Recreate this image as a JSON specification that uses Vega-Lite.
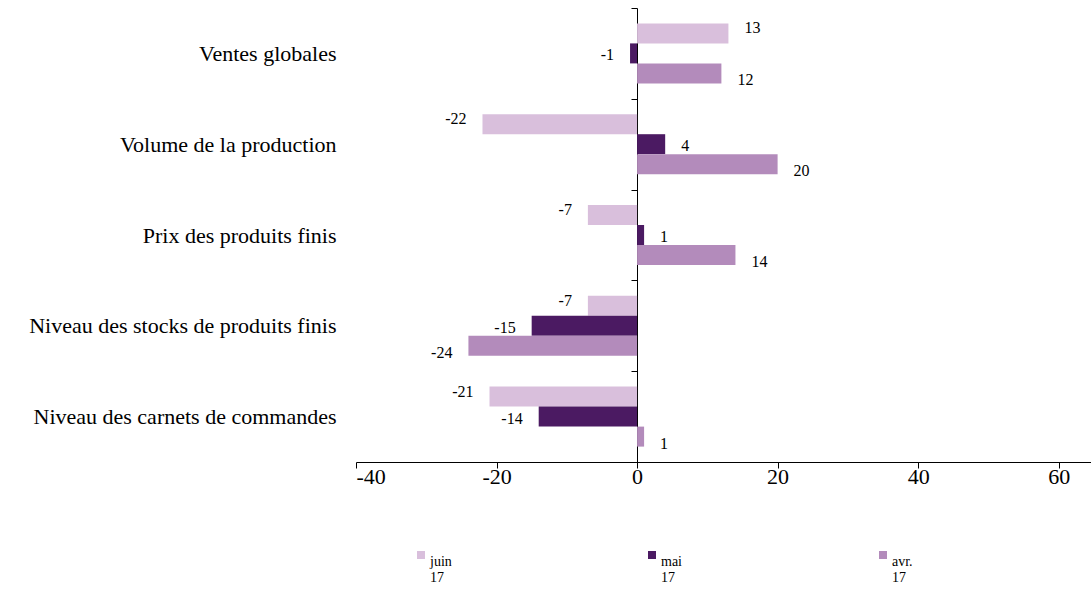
{
  "$schema": "https://vega.github.io/schema/vega-lite/v6.json",
  "width": 735,
  "height": 454,
  "autosize": {"type": "none"},
  "padding": {"left": 356, "top": 8, "right": 0, "bottom": 130},
  "background": "white",
  "config": {
    "font": "Liberation Serif",
    "text": {"font": "Liberation Serif"},
    "view": {"stroke": null},
    "legend": {"labelFont": "Liberation Serif"},
    "axis": {"labelFont": "Liberation Serif", "labelColor": "black", "domainColor": "black", "tickColor": "black", "grid": false}
  },
  "data": {
    "values": [
      {"cat": "Ventes globales", "series": "juin 17", "v": 13},
      {"cat": "Ventes globales", "series": "mai 17", "v": -1},
      {"cat": "Ventes globales", "series": "avr. 17", "v": 12},
      {"cat": "Volume de la production", "series": "juin 17", "v": -22},
      {"cat": "Volume de la production", "series": "mai 17", "v": 4},
      {"cat": "Volume de la production", "series": "avr. 17", "v": 20},
      {"cat": "Prix des produits finis", "series": "juin 17", "v": -7},
      {"cat": "Prix des produits finis", "series": "mai 17", "v": 1},
      {"cat": "Prix des produits finis", "series": "avr. 17", "v": 14},
      {"cat": "Niveau des stocks de produits finis", "series": "juin 17", "v": -7},
      {"cat": "Niveau des stocks de produits finis", "series": "mai 17", "v": -15},
      {"cat": "Niveau des stocks de produits finis", "series": "avr. 17", "v": -24},
      {"cat": "Niveau des carnets de commandes", "series": "juin 17", "v": -21},
      {"cat": "Niveau des carnets de commandes", "series": "mai 17", "v": -14},
      {"cat": "Niveau des carnets de commandes", "series": "avr. 17", "v": 1}
    ]
  },
  "encoding": {
    "y": {
      "field": "cat", "type": "nominal", "sort": null,
      "scale": {"paddingInner": 0, "paddingOuter": 0},
      "axis": {
        "title": null, "offset": -281, "labelPadding": 295, "labelLimit": 500,
        "labelFontSize": 22, "tickBand": "extent", "tickSize": 6, "domainWidth": 1, "labelAlign": "right"
      }
    },
    "x": {
      "field": "v", "type": "quantitative",
      "scale": {"domain": [-40, 64.6], "nice": false, "zero": false},
      "axis": {"title": null, "values": [-40, -20, 0, 20, 40, 60], "labelFontSize": 22, "tickSize": 6, "labelPadding": -2,
        "labelExpr": "replace(datum.label, '\u2212', '-')"}
    },
    "yOffset": {
      "field": "series", "type": "nominal",
      "sort": ["juin 17", "mai 17", "avr. 17"],
      "scale": {"paddingInner": 0, "paddingOuter": 0.77}
    }
  },
  "layer": [
    {
      "mark": {"type": "bar"},
      "encoding": {
        "color": {
          "field": "series", "type": "nominal",
          "sort": ["juin 17", "mai 17", "avr. 17"],
          "scale": {"domain": ["juin 17", "mai 17", "avr. 17"], "range": ["#D9BFDC", "#4B1A62", "#B38BBB"]},
          "legend": {
            "title": null, "orient": "none", "direction": "horizontal",
            "legendX": 58, "legendY": 540,
            "symbolType": "square", "symbolSize": 64, "symbolStrokeWidth": 0,
            "labelFontSize": 14, "labelFont": "Liberation Serif", "labelColor": "black",
            "labelExpr": "split(datum.label, ' ')", "labelBaseline": "top", "labelOffset": 2,
            "gridAlign": "all", "columnPadding": 193
          }
        }
      }
    },
    {
      "transform": [{"filter": "datum.series == 'juin 17'"}],
      "mark": {"type": "text", "fontSize": 16, "dy": -5,
        "dx": {"expr": "datum.v < 0 ? -16 : 16"},
        "align": {"expr": "datum.v < 0 ? 'right' : 'left'"}},
      "encoding": {"text": {"field": "v", "type": "nominal"}}
    },
    {
      "transform": [{"filter": "datum.series == 'mai 17'"}],
      "mark": {"type": "text", "fontSize": 16, "dy": 2,
        "dx": {"expr": "datum.v < 0 ? -16 : 16"},
        "align": {"expr": "datum.v < 0 ? 'right' : 'left'"}},
      "encoding": {"text": {"field": "v", "type": "nominal"}}
    },
    {
      "transform": [{"filter": "datum.series == 'avr. 17'"}],
      "mark": {"type": "text", "fontSize": 16, "dy": 7,
        "dx": {"expr": "datum.v < 0 ? -16 : 16"},
        "align": {"expr": "datum.v < 0 ? 'right' : 'left'"}},
      "encoding": {"text": {"field": "v", "type": "nominal"}}
    }
  ]
}
